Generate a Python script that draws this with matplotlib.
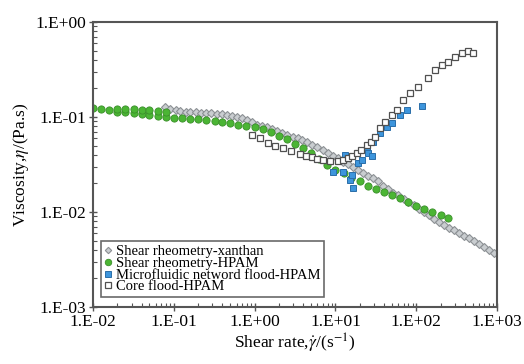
import math
import matplotlib
matplotlib.use("Agg")
import matplotlib.pyplot as plt
from matplotlib.ticker import FuncFormatter, LogLocator, NullFormatter

plt.rcParams['font.family'] = ['Liberation Serif', 'DejaVu Serif']
plt.rcParams['mathtext.fontset'] = 'stix'

# shear rheometry - xanthan
x_xan = [0.078, 0.09, 0.105, 0.12, 0.14, 0.16, 0.19, 0.22, 0.25, 0.29, 0.34, 0.39, 0.45, 0.52,
         0.60, 0.70, 0.80, 0.93, 1.07, 1.24, 1.43, 1.65, 1.9, 2.2, 2.55, 2.95, 3.4, 3.9, 4.5,
         5.2, 6.0, 7.0, 8.0, 9.3, 10.7, 12.4, 14.3, 16.5, 19, 22, 25.5, 29.5, 34, 39, 45, 52,
         60, 70, 80, 93, 107, 124, 143, 165, 190, 220, 255, 295, 340, 390, 450, 520, 600,
         700, 800, 930]
y_xan = [0.127, 0.122, 0.118, 0.116, 0.114, 0.113, 0.112, 0.111, 0.110, 0.109, 0.108, 0.107,
         0.105, 0.103, 0.101, 0.097, 0.093, 0.088, 0.083, 0.080, 0.078, 0.075, 0.072, 0.068,
         0.065, 0.062, 0.060, 0.057, 0.054, 0.051, 0.048, 0.045, 0.042, 0.039, 0.037, 0.034,
         0.032, 0.030, 0.028, 0.026, 0.024, 0.023, 0.021, 0.019, 0.0175, 0.016, 0.015, 0.0138,
         0.0128, 0.0118, 0.0108, 0.0099, 0.0092, 0.0085, 0.0078, 0.0073, 0.0068, 0.0064,
         0.0060, 0.0056, 0.0053, 0.0050, 0.0046, 0.0043, 0.0040, 0.0037]

# shear rheometry - HPAM
x_hpam = [0.010, 0.0126, 0.0158, 0.020, 0.025, 0.032, 0.040, 0.050, 0.063, 0.079, 0.10, 0.126,
          0.158, 0.20, 0.25, 0.32, 0.40, 0.50, 0.63, 0.79, 1.0, 1.26, 1.58, 2.0, 2.5, 3.2, 4.0,
          5.0, 6.3, 7.9, 10, 12.6, 15.8, 20, 25, 32, 40, 50, 63, 79, 100, 126, 158, 200, 245,
          0.020, 0.025, 0.032, 0.040, 0.050, 0.063, 0.079]
y_hpam = [0.124, 0.121, 0.118, 0.114, 0.112, 0.110, 0.107, 0.105, 0.102, 0.100, 0.098, 0.097,
          0.096, 0.095, 0.093, 0.090, 0.088, 0.086, 0.083, 0.080, 0.078, 0.075, 0.070, 0.063,
          0.058, 0.052, 0.047, 0.042, 0.036, 0.031, 0.028, 0.026, 0.023, 0.021, 0.019, 0.0175,
          0.0162, 0.0150, 0.0140, 0.0128, 0.0117, 0.0108, 0.0100, 0.0093, 0.0087,
          0.122, 0.121, 0.120, 0.119, 0.118, 0.116, 0.114]

# microfluidic network flood - HPAM
x_micro = [9.3, 12.4, 13.2, 15.2, 16.0, 16.5, 19.1, 21.3, 24.6, 25.3, 28.4, 29.2, 35.6, 43.5,
           50, 63, 77, 118]
y_micro = [0.0264, 0.0264, 0.0398, 0.0217, 0.0245, 0.0179, 0.0328, 0.0353, 0.0483, 0.0418,
           0.0389, 0.0546, 0.0679, 0.0785, 0.0865, 0.105, 0.119, 0.131]

# core flood - HPAM
x_core = [0.93, 1.15, 1.47, 1.8, 2.25, 2.8, 3.65, 4.3, 5.1, 6.0, 7.0, 8.6, 10.8, 12.5, 14.3,
          16, 18.5, 21, 24.6, 27.5, 30.9, 35.6, 41, 50, 58, 69, 84, 105, 140, 171, 208, 248,
          302, 369, 438, 505]
y_core = [0.0647, 0.060, 0.0532, 0.050, 0.0472, 0.044, 0.0408, 0.039, 0.0379, 0.036, 0.0353,
          0.0344, 0.0344, 0.035, 0.0370, 0.039, 0.0418, 0.045, 0.0507, 0.055, 0.0616, 0.0766,
          0.0886, 0.105, 0.119, 0.151, 0.179, 0.207, 0.257, 0.313, 0.353, 0.379, 0.428, 0.472,
          0.495, 0.472]

fig = plt.figure(figsize=(5.24, 3.64), dpi=100)
ax = fig.add_axes([0.1775, 0.1566, 0.771, 0.783])

ax.plot(x_xan, y_xan, 'D', ms=3.6, mfc='#c9cdd0', mec='#8c9094', mew=0.8,
        label='Shear rheometry-xanthan')
ax.plot(x_hpam, y_hpam, 'o', ms=5.2, mfc='#4bb534', mec='#3a8f2a', mew=0.6,
        label='Shear rheometry-HPAM')
ax.plot(x_micro, y_micro, 's', ms=4.8, mfc='#3d95dc', mec='#2a6ea8', mew=0.7,
        label='Microfluidic netword flood-HPAM')
ax.plot(x_core, y_core, 's', ms=5.0, mfc='white', mec='#505050', mew=0.9,
        label='Core flood-HPAM')

ax.set_xscale('log')
ax.set_yscale('log')
ax.set_xlim(0.01, 1000)
ax.set_ylim(0.001, 1)

fmt = FuncFormatter(lambda v, p: '1.E%+03d' % round(math.log10(v)))
ax.xaxis.set_major_formatter(fmt)
ax.yaxis.set_major_formatter(fmt)
for a in (ax.xaxis, ax.yaxis):
    a.set_major_locator(LogLocator(base=10, numticks=10))
    a.set_minor_locator(LogLocator(base=10, subs=range(2, 10), numticks=20))
    a.set_minor_formatter(NullFormatter())

ax.tick_params(which='major', direction='inout', length=6, width=1.0, color='#555555',
               labelsize=12.5, pad=2)
ax.tick_params(which='minor', direction='in', length=3, width=0.8, color='#555555')
for s in ax.spines.values():
    s.set_linewidth(1.5)
    s.set_color('#555555')

ax.set_xlabel(r'Shear rate,$\dot{\gamma}$/(s$^{-1}$)', fontsize=12.5, labelpad=1)
ax.set_ylabel(r'Viscosity,$\eta$/(Pa.s)', fontsize=12.5, labelpad=3)

leg = ax.legend(loc='lower left', bbox_to_anchor=(0.02, 0.035), fontsize=10.5, frameon=True,
                fancybox=False, edgecolor='#444444', handlelength=0.5, handletextpad=0.25,
                labelspacing=-0.1, borderpad=0.25, borderaxespad=0, markerscale=0.9)
leg.get_frame().set_linewidth(1.2)

fig.savefig('out.png', dpi=100)
